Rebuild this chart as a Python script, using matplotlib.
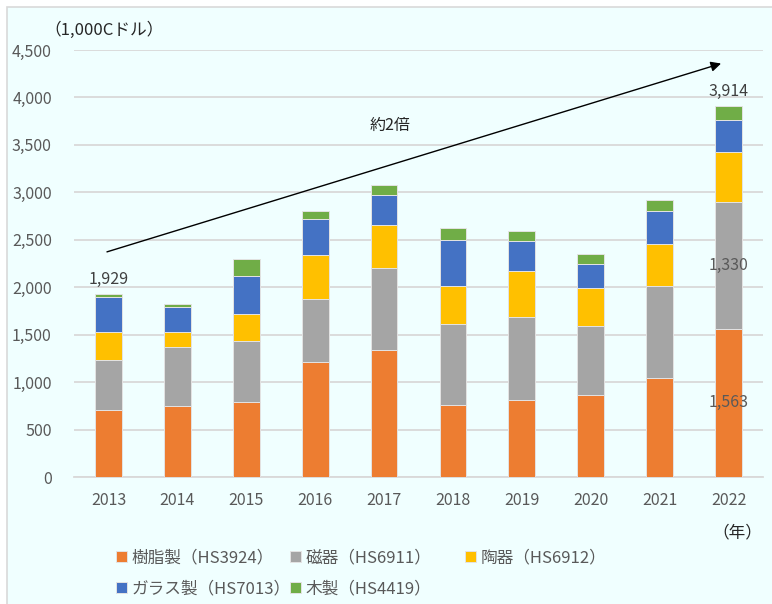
import numpy as np
import matplotlib.pyplot as plt
from matplotlib.patches import Rectangle

plt.rcParams['font.family'] = ['Noto Sans CJK JP', 'DejaVu Sans']

# Data (1,000 C$)
years = ['2013', '2014', '2015', '2016', '2017', '2018', '2019', '2020', '2021', '2022']
resin = [703, 745, 787, 1215, 1342, 762, 815, 868, 1040, 1563]      # 樹脂製 HS3924
porcelain = [533, 625, 650, 661, 857, 850, 871, 727, 973, 1330]     # 磁器 HS6911
ceramic = [295, 161, 284, 464, 457, 401, 485, 397, 443, 527]        # 陶器 HS6912
glass = [366, 261, 394, 382, 313, 481, 313, 256, 351, 344]          # ガラス製 HS7013
wood = [32, 31, 179, 78, 105, 127, 105, 99, 109, 150]               # 木製 HS4419

series = [
    ('樹脂製（HS3924）', resin, '#ED7D31'),
    ('磁器（HS6911）', porcelain, '#A5A5A5'),
    ('陶器（HS6912）', ceramic, '#FFC000'),
    ('ガラス製（HS7013）', glass, '#4472C4'),
    ('木製（HS4419）', wood, '#70AD47'),
]

text_color = '#595959'
grid_color = '#D9D9D9'
bg_color = '#F0FFFF'

fig = plt.figure(figsize=(7.72, 6.04), dpi=100, facecolor='white')
fig.patches.append(Rectangle((7 / 772, -0.01), 1.0, 1 - 7 / 604 + 0.01,
                             transform=fig.transFigure, facecolor=bg_color,
                             edgecolor=grid_color, linewidth=1.2, zorder=-10))
ax = fig.add_axes([74 / 772, 127 / 604, 689 / 772, 427 / 604])
ax.set_facecolor('none')

x = np.arange(len(years))
bottom = np.zeros(len(years))
handles = {}
for name, vals, color in series:
    vals = np.array(vals)
    b = ax.bar(x, vals, 0.39, bottom=bottom, color=color, edgecolor='#E3E3E3',
               linewidth=0.7, label=name, zorder=3)
    handles[name] = b
    bottom += vals

ax.set_xlim(-0.5, len(years) - 0.5)
ax.set_ylim(0, 4500)
ax.set_yticks(np.arange(0, 4501, 500))
ax.set_yticklabels([f'{v:,}' for v in range(0, 4501, 500)])
ax.set_xticks(x)
ax.set_xticklabels(years)
ax.tick_params(axis='both', length=0, labelsize=11.5, colors=text_color)
ax.tick_params(axis='y', pad=16)
ax.tick_params(axis='x', pad=11)
ax.grid(axis='y', color=grid_color, linewidth=1.3, zorder=0)
for s in ['top', 'right', 'left']:
    ax.spines[s].set_visible(False)
ax.spines['bottom'].set_color(grid_color)
ax.spines['bottom'].set_linewidth(1.3)

# data labels
totals = bottom
ax.text(0, totals[0] + 60, f'{int(totals[0]):,}', ha='center', va='bottom',
        fontsize=11.5, color='#404040')
ax.text(9, totals[9] + 60, f'{int(totals[9]):,}', ha='center', va='bottom',
        fontsize=11.5, color='#404040')
ax.text(9, resin[9] / 2, f'{resin[9]:,}', ha='center', va='center',
        fontsize=11.5, color=text_color)
ax.text(9, resin[9] + porcelain[9] / 2, f'{porcelain[9]:,}', ha='center',
        va='center', fontsize=11.5, color=text_color)

# trend arrow
ax.annotate('', xy=(8.93, 4366), xytext=(-0.06, 2364),
            arrowprops=dict(arrowstyle='-|>', color='black', lw=1.0,
                            mutation_scale=15), zorder=5)
ax.text(4.09, 3710, '約2倍', ha='center', va='center', fontsize=11.5, color='#262626')

fig.text(44 / 772, 1 - 30 / 604, '（1,000Cドル）', ha='left', va='center',
         fontsize=12, color='#262626')
fig.text(762 / 772, 1 - 533 / 604, '（年）', ha='right', va='center',
         fontsize=12, color='#262626')

# legend: three fixed-width columns
columns = [['樹脂製（HS3924）', 'ガラス製（HS7013）'],
           ['磁器（HS6911）', '木製（HS4419）'],
           ['陶器（HS6912）']]
col_x = [116, 290, 465]
for names, cx in zip(columns, col_x):
    leg = fig.legend([handles[n] for n in names], names, ncol=1,
                     loc='upper left', bbox_to_anchor=(cx / 772, 1 - 549 / 604),
                     frameon=False, fontsize=12, handlelength=0.65,
                     handleheight=0.65, handletextpad=0.3, labelspacing=0.87,
                     borderaxespad=0, borderpad=0)
    for t in leg.get_texts():
        t.set_color(text_color)

fig.savefig('out.png', dpi=100, facecolor=fig.get_facecolor())
